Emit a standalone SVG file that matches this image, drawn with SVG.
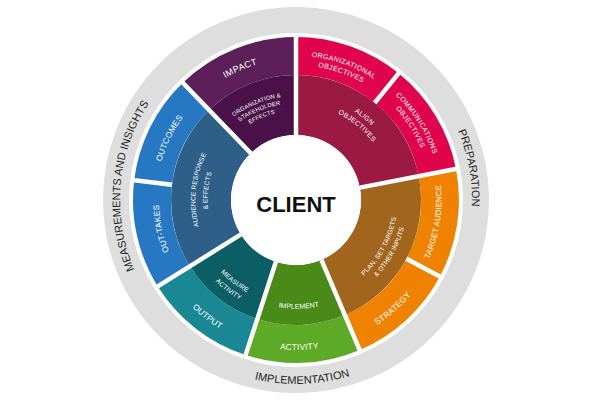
<svg xmlns="http://www.w3.org/2000/svg" width="590" height="409" viewBox="0 0 590 409">
<style>
.lbl{font-family:"Liberation Sans",Arial,sans-serif;fill:#fff;text-anchor:middle;}
.o{font-size:8.3px;letter-spacing:.2px;}
.o2{font-size:7px;letter-spacing:.4px;}
.i{font-size:6.5px;letter-spacing:.15px;}
.i2{font-size:5.8px;letter-spacing:.15px;}
.ring{font-family:"Liberation Sans",Arial,sans-serif;font-size:11px;fill:#1e1e1e;text-anchor:middle;}
.sep{stroke:#fff;stroke-width:4.5;fill:none;}
</style>
<defs>
<path id="pMeas" d="M221.6,359.5 A176 176 0 0 1 250.5,30"/>
<path id="pPrep" d="M354.8,34.1 A176 176 0 0 1 410.3,333.8"/>
<path id="pImpl" d="M140,297.5 A184 184 0 0 0 458.5,286.4"/>
<path id="pImpact" d="M161.2,158.8 A141 141 0 0 1 360,74.4"/>
<path id="pOrg1" d="M245.6,65.1 A144 144 0 0 1 420.1,126.9"/>
<path id="pOrg2" d="M248.8,73.8 A134.8 134.8 0 0 1 412.2,131.5"/>
<path id="pCom1" d="M339.5,62.2 A144.5 144.5 0 0 1 439.3,218.9"/>
<path id="pCom2" d="M336.7,71 A135.3 135.3 0 0 1 430.1,217.6"/>
<path id="pTarget" d="M391.5,309.8 A145.5 145.5 0 0 0 420.7,125.1"/>
<path id="pStrat" d="M300.4,348.9 A149 149 0 0 0 443.4,221.5"/>
<path id="pAct" d="M202.2,317.1 A150 150 0 0 0 395,312.7"/>
<path id="pOutput" d="M150.2,233.1 A149.5 149.5 0 0 0 303.3,349.3"/>
<path id="pOutT" d="M211.7,308 A137 137 0 0 1 175,135.7"/>
<path id="pOutC" d="M160.2,233.9 A140 140 0 0 1 239.1,72.1"/>
<path id="pSt1" d="M203.8,152 A104 104 0 0 1 327.3,100.8"/>
<path id="pSt2" d="M210.4,155.4 A96.5 96.5 0 0 1 325,108"/>
<path id="pSt3" d="M217.1,158.9 A89 89 0 0 1 322.8,115.1"/>
<path id="pAl1" d="M295.1,94 A106 106 0 0 1 400.2,180.7"/>
<path id="pAl2" d="M295.2,104 A96 96 0 0 1 390.4,182.5"/>
<path id="pPl1" d="M332.4,294.8 A101.5 101.5 0 0 0 395.6,180.6"/>
<path id="pPl2" d="M336,304.1 A111.5 111.5 0 0 0 405.4,178.7"/>
<path id="pImp" d="M228.3,285.1 A108.8 108.8 0 0 0 368.1,281.5"/>
<path id="pMe1" d="M194.3,223.5 A104.4 104.4 0 0 0 301.5,304.3"/>
<path id="pMe2" d="M184.5,225.7 A114.4 114.4 0 0 0 302,314.2"/>
<path id="pAu1" d="M212.6,256.3 A100.6 100.6 0 0 1 226.1,127.6"/>
<path id="pAu2" d="M222.6,249.5 A88.6 88.6 0 0 1 234.4,136.3"/>
</defs>
<rect width="590" height="409" fill="#fff"/>
<g id="ring">
<circle cx="296" cy="200" r="180" fill="none" stroke="#dedede" stroke-width="26"/>
<text class="ring"><textPath href="#pMeas" startOffset="50%">MEASUREMENTS AND INSIGHTS</textPath></text>
<text class="ring"><textPath href="#pPrep" startOffset="50%">PREPARATION</textPath></text>
<text class="ring"><textPath href="#pImpl" startOffset="50%">IMPLEMENTATION</textPath></text>
</g>
<g id="impact">
<path d="M182.8,82.8 A163 163 0 0 1 296,37 L296,75 A125 125 0 0 0 209.2,110.1 Z" fill="#5c1f5a"/>
<text class="lbl" style="font-size:9px;letter-spacing:.3px"><textPath href="#pImpact" startOffset="50%">IMPACT</textPath></text>
</g>
<g id="org-effects">
<path d="M209.2,110.1 A125 125 0 0 1 296,75 L296,135 A65 65 0 0 0 250.8,153.2 Z" fill="#4a1148"/>
<text class="lbl i2"><textPath href="#pSt1" startOffset="50%">ORGANIZATION &amp;</textPath></text>
<text class="lbl i2"><textPath href="#pSt2" startOffset="50%">STAKEHOLDER</textPath></text>
<text class="lbl i2"><textPath href="#pSt3" startOffset="50%">EFFECTS</textPath></text>
</g>
<g id="org-objectives">
<path d="M296,37 A163 163 0 0 1 398.6,73.3 L374.7,102.9 A125 125 0 0 0 296,75 Z" fill="#e0044c"/>
<text class="lbl o2"><textPath href="#pOrg1" startOffset="50%">ORGANIZATIONAL</textPath></text>
<text class="lbl o2"><textPath href="#pOrg2" startOffset="50%">OBJECTIVES</textPath></text>
</g>
<g id="comm-objectives">
<path d="M398.6,73.3 A163 163 0 0 1 456,168.9 L418.7,176.1 A125 125 0 0 0 374.7,102.9 Z" fill="#e0044c"/>
<text class="lbl o2"><textPath href="#pCom1" startOffset="50%">COMMUNICATIONS</textPath></text>
<text class="lbl o2"><textPath href="#pCom2" startOffset="50%">OBJECTIVES</textPath></text>
</g>
<g id="align">
<path d="M296,75 A125 125 0 0 1 418.7,176.1 L359.8,187.6 A65 65 0 0 0 296,135 Z" fill="#9a1a44"/>
<text class="lbl" style="font-size:6.8px;letter-spacing:.3px"><textPath href="#pAl1" startOffset="50%">ALIGN</textPath></text>
<text class="lbl" style="font-size:6.8px;letter-spacing:.3px"><textPath href="#pAl2" startOffset="50%">OBJECTIVES</textPath></text>
</g>
<g id="target">
<path d="M456,168.9 A163 163 0 0 1 439.9,276.5 L406.4,258.7 A125 125 0 0 0 418.7,176.1 Z" fill="#ef8200"/>
<text class="lbl" style="font-size:7.8px;letter-spacing:.2px"><textPath href="#pTarget" startOffset="50%">TARGET AUDIENCE</textPath></text>
</g>
<g id="strategy">
<path d="M439.9,276.5 A163 163 0 0 1 359.7,350 L344.8,315.1 A125 125 0 0 0 406.4,258.7 Z" fill="#ef8200"/>
<text class="lbl o"><textPath href="#pStrat" startOffset="50%">STRATEGY</textPath></text>
</g>
<g id="plan">
<path d="M418.7,176.1 A125 125 0 0 1 344.8,315.1 L321.4,259.8 A65 65 0 0 0 359.8,187.6 Z" fill="#a2651e"/>
<text class="lbl i"><textPath href="#pPl1" startOffset="50%">PLAN, SET TARGETS</textPath></text>
<text class="lbl i"><textPath href="#pPl2" startOffset="50%">&amp; OTHER INPUTS</textPath></text>
</g>
<g id="activity">
<path d="M359.7,350 A163 163 0 0 1 245.6,355 L257.4,318.9 A125 125 0 0 0 344.8,315.1 Z" fill="#5daa27"/>
<text class="lbl o"><textPath href="#pAct" startOffset="50%">ACTIVITY</textPath></text>
</g>
<g id="implement">
<path d="M344.8,315.1 A125 125 0 0 1 257.4,318.9 L275.9,261.8 A65 65 0 0 0 321.4,259.8 Z" fill="#4a8a18"/>
<text class="lbl" style="font-size:7px"><textPath href="#pImp" startOffset="50%">IMPLEMENT</textPath></text>
</g>
<g id="output">
<path d="M245.6,355 A163 163 0 0 1 157.8,286.4 L190,266.2 A125 125 0 0 0 257.4,318.9 Z" fill="#1a8794"/>
<text class="lbl o"><textPath href="#pOutput" startOffset="50%">OUTPUT</textPath></text>
</g>
<g id="measure">
<path d="M257.4,318.9 A125 125 0 0 1 190,266.2 L240.9,234.4 A65 65 0 0 0 275.9,261.8 Z" fill="#0b5e63"/>
<text class="lbl i"><textPath href="#pMe1" startOffset="50%">MEASURE</textPath></text>
<text class="lbl i"><textPath href="#pMe2" startOffset="50%">ACTIVITY</textPath></text>
</g>
<g id="out-takes">
<path d="M157.8,286.4 A163 163 0 0 1 134.2,180.1 L171.9,184.8 A125 125 0 0 0 190,266.2 Z" fill="#2778c2"/>
<text class="lbl o"><textPath href="#pOutT" startOffset="50%">OUT-TAKES</textPath></text>
</g>
<g id="outcomes">
<path d="M134.2,180.1 A163 163 0 0 1 182.8,82.8 L209.2,110.1 A125 125 0 0 0 171.9,184.8 Z" fill="#2778c2"/>
<text class="lbl o"><textPath href="#pOutC" startOffset="50%">OUTCOMES</textPath></text>
</g>
<g id="audience">
<path d="M190,266.2 A125 125 0 0 1 209.2,110.1 L250.8,153.2 A65 65 0 0 0 240.9,234.4 Z" fill="#2e5f89"/>
<text class="lbl i"><textPath href="#pAu1" startOffset="50%">AUDIENCE RESPONSE</textPath></text>
<text class="lbl i"><textPath href="#pAu2" startOffset="50%">&amp; EFFECTS</textPath></text>
</g>
<g id="separators">
<line class="sep" x1="296" y1="135" x2="296" y2="35"/>
<line class="sep" x1="374.7" y1="102.9" x2="399.8" y2="71.8"/>
<line class="sep" x1="359.8" y1="187.6" x2="458" y2="168.5"/>
<line class="sep" x1="406.4" y1="258.7" x2="441.7" y2="277.5"/>
<line class="sep" x1="321.4" y1="259.8" x2="360.5" y2="351.9"/>
<line class="sep" x1="275.9" y1="261.8" x2="245" y2="356.9"/>
<line class="sep" x1="240.9" y1="234.4" x2="156.1" y2="287.4"/>
<line class="sep" x1="171.9" y1="184.8" x2="132.2" y2="179.9"/>
<line class="sep" x1="250.8" y1="153.2" x2="181.4" y2="81.3"/>
</g>
<g id="client">
<circle cx="296" cy="200" r="65" fill="#fff"/>
<text x="296" y="211.5" style="font-family:'Liberation Sans',Arial,sans-serif;font-size:22px;font-weight:bold;fill:#111;text-anchor:middle">CLIENT</text>
</g>
</svg>
